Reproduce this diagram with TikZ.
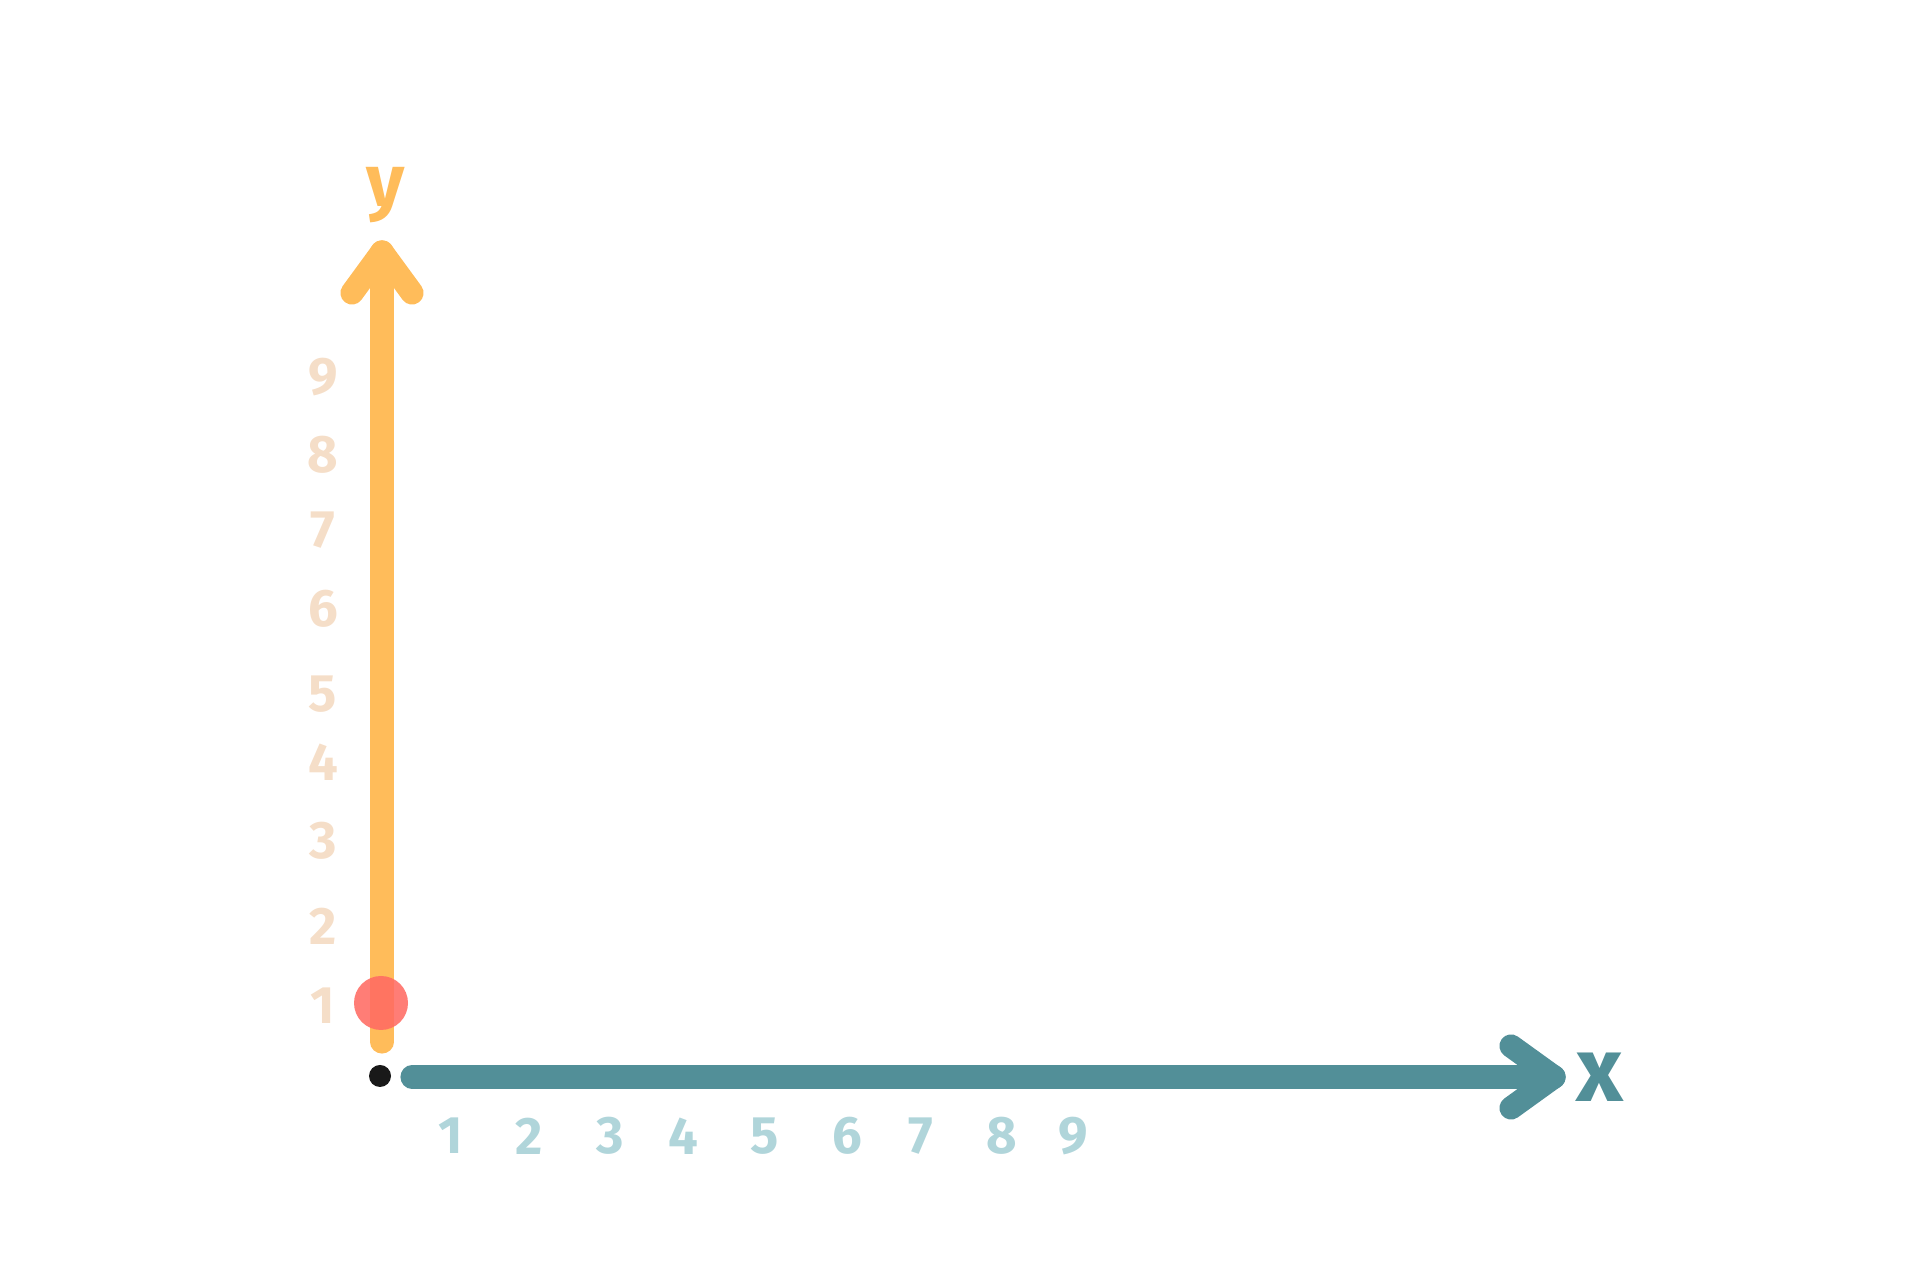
\documentclass[tikz,border=0pt]{standalone}
\usepackage{fontspec}
\setmainfont{Fira Sans}

\definecolor{axeorange}{HTML}{FFBC5A}
\definecolor{axeteal}{HTML}{528F98}
\definecolor{tickteal}{HTML}{B0D5DA}
\definecolor{tickpeach}{HTML}{F5DEC8}
\definecolor{pointred}{HTML}{FF6B63}

\tikzset{
  axisline/.style={line width=6.6pt, line cap=round, line join=round},
  xtick/.style={text=tickteal, font=\fontsize{15}{15}\selectfont\bfseries},
  ytick/.style={text=tickpeach, font=\fontsize{15}{15}\selectfont\bfseries}
}

\begin{document}
\begin{tikzpicture}[scale=1]

\useasboundingbox (0,0) rectangle (19.2,12.8);

% Axe y
\coordinate (ybot) at (3.82,2.38);
\coordinate (ytip) at (3.82,10.28);
\coordinate (yarmL) at (3.52,9.87);
\coordinate (yarmR) at (4.12,9.87);
\draw[axisline, axeorange] (ybot) -- (ytip);
\draw[axisline, axeorange] (yarmL) -- (ytip) -- (yarmR);

% Axe x
\coordinate (xleft) at (4.12,2.03);
\coordinate (xtip) at (15.54,2.03);
\coordinate (xarmU) at (15.11,2.34);
\coordinate (xarmD) at (15.11,1.72);
\draw[axisline, axeteal] (xleft) -- (xtip);
\draw[axisline, axeteal] (xarmU) -- (xtip) -- (xarmD);

% Origine
\fill[black!90] (3.80,2.04) circle (0.11);

% Point
\fill[pointred, opacity=0.88] (3.81,2.77) circle (0.27);

% Etiquettes des axes
\node[text=axeorange, font=\fontsize{21}{21}\selectfont\bfseries] (ylabel) at (3.86,10.85) {y};
\node[text=axeteal, font=\fontsize{26}{26}\selectfont\bfseries] (xlabel) at (16.0,2.03) {x};

% Graduations x
\foreach \n/\x in {1/4.51, 2/5.29, 3/6.10, 4/6.83, 5/7.65, 6/8.47, 7/9.21, 8/10.02, 9/10.73}
  \node[xtick] (xt\n) at (\x,1.44) {\n};

% Graduations y
\foreach \n/\y in {1/2.74, 2/3.54, 3/4.39, 4/5.18, 5/5.86, 6/6.71, 7/7.50, 8/8.25, 9/9.03}
  \node[ytick] (yt\n) at (3.23,\y) {\n};

\end{tikzpicture}
\end{document}
